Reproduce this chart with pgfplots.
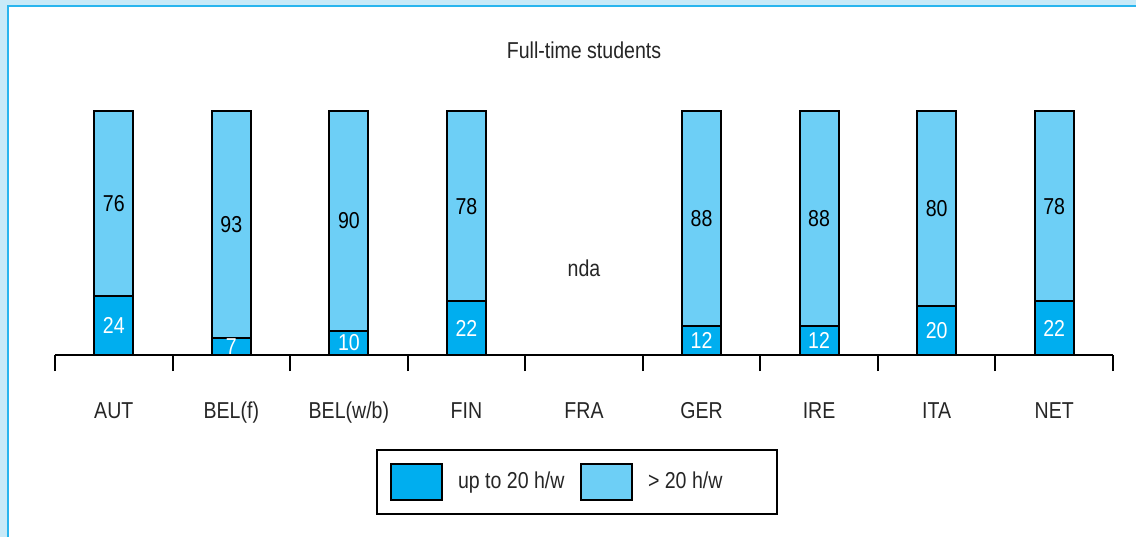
\documentclass[border=0pt]{standalone}
\usepackage{pgfplots}
\pgfplotsset{compat=1.18}
\usepackage{pgfplotstable}
\usepackage{fontspec}
\setmainfont[FakeStretch=0.85]{Liberation Sans}
\definecolor{darkc}{HTML}{00AEEF}
\definecolor{lightc}{HTML}{6DCFF6}
\definecolor{bgblue}{HTML}{C8EAF8}
\definecolor{frameblue}{HTML}{29B5EE}
\pgfplotstableread{
x lo hi
0 24 76
1 7 93
2 10 90
3 22 78
5 12 88
6 12 88
7 20 80
8 22 78
}\datatable
\begin{document}
\fontsize{11.5pt}{13.8pt}\selectfont
\begin{tikzpicture}
\useasboundingbox (0,0) rectangle (568pt,268.5pt);
\fill[bgblue] (0,0) rectangle (568pt,268.5pt);
\fill[white] (4pt,0) rectangle (568pt,265.5pt);
\draw[frameblue, line width=1pt] (4pt,0) -- (4pt,265.5pt) -- (568pt,265.5pt);
\begin{axis}[
  at={(27.5pt,91pt)}, anchor=south west,
  scale only axis, width=529pt, height=122pt,
  xmin=-0.5, xmax=8.5, ymin=0, ymax=100,
  axis x line=bottom, x axis line style={-, line width=1pt},
  hide y axis,
  ybar stacked, bar width=19.5pt,
  xtick={0,...,8},
  xticklabels={AUT,BEL(f),BEL(w/b),FIN,FRA,GER,IRE,ITA,NET},
  major tick length=0pt,
  minor xtick={-0.5,0.5,...,8.5}, minor tick length=8pt, xtick align=outside,
  minor tick style={line width=1pt, black},
  xticklabel style={anchor=base, yshift=-31.5pt, text=black!85},
  title={Full-time students},
  title style={at={(0.5,1.2)}, anchor=center, text=black!85},
  legend style={at={(0.4934,-0.5205)}, anchor=center, legend columns=2,
    draw=black, line width=0.8pt, inner xsep=6.5pt, inner ysep=6.5pt,
    nodes={inner sep=0pt, text width=58pt, align=flush left, text=black!85},
    /tikz/every odd column/.append style={column sep=7.5pt},
    /tikz/every even column/.append style={column sep=3pt}},
  legend cell align=left,
  legend image code/.code={\draw[#1, line width=1pt] (0pt,-9pt) rectangle (25.5pt,9pt);},
  clip=false,
]
\addplot[fill=darkc, draw=black, line width=1pt,
  nodes near coords, point meta=explicit symbolic,
  nodes near coords style={anchor=center, text=white}]
  table[x=x, y=lo, meta=lo] {\datatable};
\addplot[fill=lightc, draw=black, line width=1pt,
  nodes near coords, point meta=explicit symbolic,
  nodes near coords style={anchor=center, text=black}]
  table[x=x, y=hi, meta=hi] {\datatable};
\node[text=black!85] at (axis cs:4,35.7) {nda};
\legend{up to 20 h/w, > 20 h/w}
\end{axis}
\end{tikzpicture}
\end{document}
